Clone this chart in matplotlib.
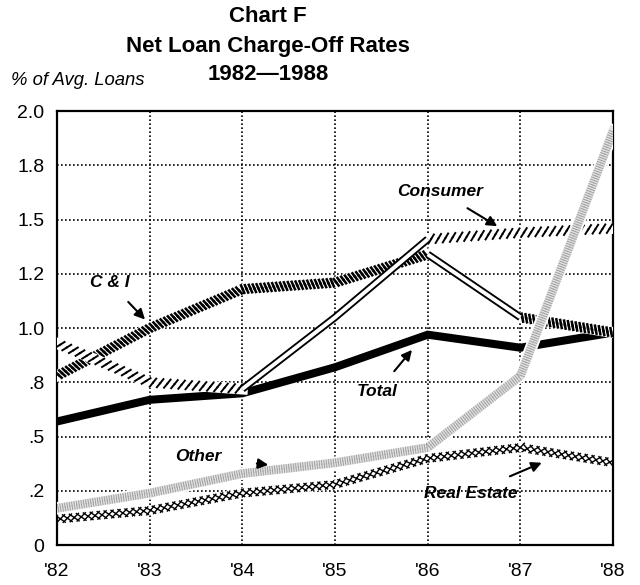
import matplotlib
matplotlib.use("Agg")
import matplotlib.pyplot as plt
import matplotlib.patheffects as pe

# Werte (in % der durchschnittlichen Kredite)
years = [1982, 1983, 1984, 1985, 1986, 1987, 1988]
year_labels = ["'82", "'83", "'84", "'85", "'86", "'87", "'88"]
total = [0.57, 0.67, 0.70, 0.82, 0.97, 0.91, 0.98]
c_and_i = [0.78, 1.00, 1.18, 1.21, 1.34, 1.05, 0.98]
consumer = [0.93, 0.75, 0.72, 1.05, 1.41, 1.44, 1.46]
other = [0.17, 0.24, 0.33, 0.38, 0.45, 0.78, 1.91]
real_estate = [0.12, 0.16, 0.24, 0.28, 0.40, 0.45, 0.38]

y_ticks = [0, 0.25, 0.5, 0.75, 1.0, 1.25, 1.5, 1.75, 2.0]
y_labels = ["0", ".2", ".5", ".8", "1.0", "1.2", "1.5", "1.8", "2.0"]

plt.rcParams["font.family"] = ["Liberation Sans", "DejaVu Sans"]

fig = plt.figure(figsize=(6.4, 5.85), dpi=100)
ax = fig.add_axes([0.089, 0.068, 0.869, 0.742])

ax.set_xlim(1982, 1988)
ax.set_ylim(0, 2.0)
ax.set_xticks(years)
ax.set_xticklabels(year_labels, fontsize=14)
ax.set_yticks(y_ticks)
ax.set_yticklabels(y_labels, fontsize=14)
ax.tick_params(length=0, pad=9)
ax.tick_params(axis="x", pad=13)
for s in ax.spines.values():
    s.set_linewidth(1.6)
ax.grid(True, color="black", linestyle=(0, (1, 1.4)), linewidth=1.2)
ax.set_axisbelow(True)


def hatched(xs, ys, angle, spacing, length, lw):
    # schraffiertes Band: Striche schräg zu beiden Seiten der Linie
    line, = ax.plot(xs, ys, color="black", lw=lw, zorder=3)
    line.set_path_effects([
        pe.Stroke(linewidth=8, foreground="white"),
        pe.TickedStroke(angle=angle, spacing=spacing, length=length, linewidth=lw),
        pe.TickedStroke(angle=angle - 180, spacing=spacing, length=length, linewidth=lw),
    ])


def double_line(xs, ys):
    ax.plot(xs, ys, color="black", lw=5.5, solid_capstyle="butt", zorder=4)
    ax.plot(xs, ys, color="white", lw=2.8, solid_capstyle="butt", zorder=4)


# Real Estate: Kreuzkette
re_line, = ax.plot(years, real_estate, color="black", lw=0.8, zorder=2)
re_line.set_path_effects([
    pe.Stroke(linewidth=7, foreground="white"),
    pe.TickedStroke(angle=40, spacing=5.0, length=0.85, linewidth=1.0),
    pe.TickedStroke(angle=-140, spacing=5.0, length=0.85, linewidth=1.0),
    pe.TickedStroke(angle=140, spacing=5.0, length=0.85, linewidth=1.0),
    pe.TickedStroke(angle=-40, spacing=5.0, length=0.85, linewidth=1.0),
])

# Total: dicke schwarze Linie
ax.plot(years, total, color="black", lw=5.8, solid_joinstyle="miter", zorder=3)

# C & I: "\" Schraffur, steiler Abschnitt '86-'87 als Doppellinie
hatched(years[:5], c_and_i[:5], 110, 2.8, 1.05, 1.8)
hatched(years[5:], c_and_i[5:], 110, 2.8, 1.05, 1.8)
double_line(years[4:6], c_and_i[4:6])

# Consumer: "/" Schraffur, steiler Abschnitt '84-'86 als Doppellinie
hatched(years[:3], consumer[:3], 55, 5.0, 0.75, 1.4)
hatched(years[4:], consumer[4:], 55, 5.0, 0.75, 1.4)
double_line(years[2:5], consumer[2:5])

# Other: gepunktetes graues Band
oth, = ax.plot(years, other, color="#e2e2e2", lw=6, zorder=5)
oth.set_path_effects([
    pe.Stroke(linewidth=9, foreground="white"),
    pe.Stroke(linewidth=6.5, foreground="#e2e2e2"),
    pe.TickedStroke(angle=90, spacing=1.7, length=1.6, linewidth=0.7, foreground="#a0a0a0"),
    pe.TickedStroke(angle=-90, spacing=1.7, length=1.6, linewidth=0.7, foreground="#a0a0a0"),
])

# Beschriftungen mit Pfeilen
lab = dict(fontsize=12.5, fontweight="bold", fontstyle="italic", ha="center", va="center", zorder=6)
arr = dict(arrowstyle="-|>", color="black", lw=1.5, mutation_scale=15)
ax.annotate("C & I", xy=(1982.95, 1.04), xytext=(1982.57, 1.21), arrowprops=dict(arr, shrinkA=9, shrinkB=0), **lab)
ax.annotate("Consumer", xy=(1986.75, 1.47), xytext=(1986.13, 1.63), arrowprops=dict(arr, shrinkA=9, shrinkB=0), **lab)
ax.annotate("Total", xy=(1985.83, 0.90), xytext=(1985.46, 0.71), arrowprops=dict(arr, shrinkA=9, shrinkB=0), **lab)
ax.annotate("Other", xy=(1984.28, 0.37), xytext=(1983.52, 0.41), arrowprops=dict(arr, shrinkA=24, shrinkB=0), **lab)
ax.annotate("Real Estate", xy=(1987.23, 0.38), xytext=(1986.46, 0.24), arrowprops=dict(arr, shrinkA=12, shrinkB=0), **lab)

# Titel
fig.text(0.419, 0.971, "Chart F", fontsize=16, fontweight="bold", ha="center", va="center")
fig.text(0.419, 0.921, "Net Loan Charge-Off Rates", fontsize=16, fontweight="bold", ha="center", va="center")
fig.text(0.419, 0.872, "1982\u20141988", fontsize=16, fontweight="bold", ha="center", va="center")
fig.text(0.017, 0.863, "% of Avg. Loans", fontsize=13.3, fontstyle="italic", ha="left", va="center")

fig.savefig("out.png", dpi=100)
